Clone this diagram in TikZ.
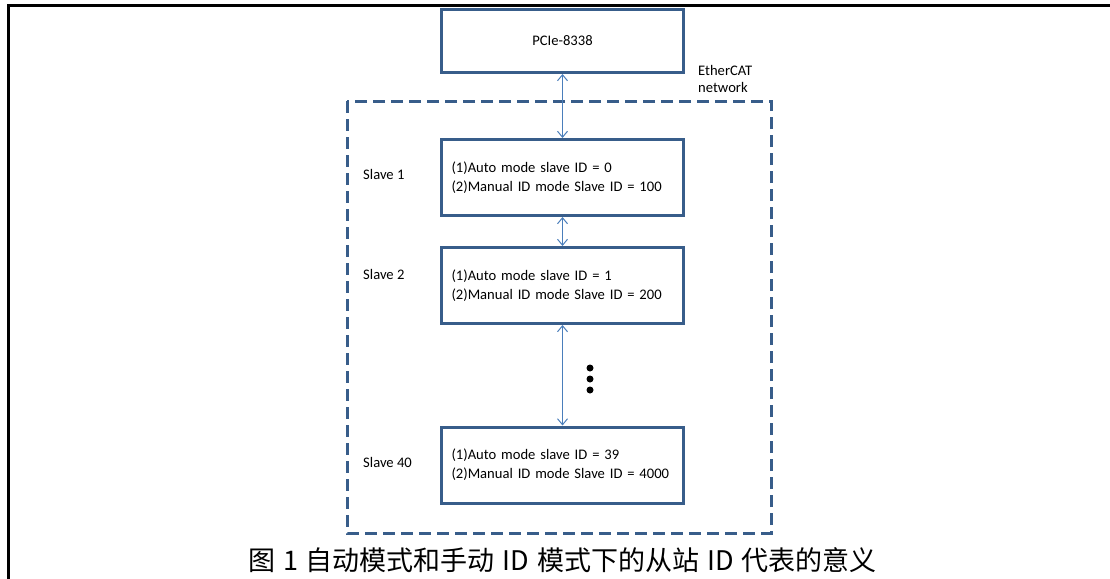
\documentclass[tikz,border=0pt]{standalone}
\usepackage{fontspec}
\setmainfont{Carlito}
\newfontfamily\cjk{Noto Sans CJK SC}
\usepackage{xcolor}
\usetikzlibrary{arrows.meta}
\definecolor{boxblue}{HTML}{385D8A}
\definecolor{linkblue}{HTML}{4A7EBB}
\newcommand{\gap}{\hspace{8pt}}

\begin{document}
\begin{tikzpicture}[x=1pt,y=-1pt,
	card/.style={draw=boxblue,line width=3pt,minimum width=242pt,minimum height=76pt,inner sep=0pt,font=\fontsize{14.6}{19}\selectfont},
	info/.style={card,text width=222pt,align=left,inner xsep=10pt},
	link/.style={linkblue,line width=1pt,{Straight Barb[length=6pt,width=10pt]}-{Straight Barb[length=6pt,width=10pt]}},
	tag/.style={anchor=west,inner sep=0pt,font=\fontsize{14.6}{17}\selectfont}]
	\useasboundingbox (0,0) rectangle (1110,578);
	
	% frame
	\draw[line width=3pt] (8,580) -- (8,6) -- (1112,6);
	
	% network
	\draw[boxblue,line width=3pt,dash pattern=on 12pt off 6pt] (347,101) rectangle (771,533);
	\node[tag,anchor=north west,align=left] (net) at (698,65) {EtherCAT\\network};
	
	\node[card,minimum height=63pt] (pcie) at (562.5,41) {PCIe-8338};
	\node[info] (slaveA) at (562.5,177.5) {(1)Auto mode slave ID = 0\\(2)Manual ID mode Slave ID = 100};
	\node[info] (slaveB) at (562.5,285.5) {(1)Auto mode slave ID = 1\\(2)Manual ID mode Slave ID = 200};
	\node[info] (slaveN) at (562.5,465) {(1)Auto mode slave ID = 39\\(2)Manual ID mode Slave ID = 4000};
	
	\node[tag] (tagA) at (363,174) {Slave 1};
	\node[tag] (tagB) at (363,274) {Slave 2};
	\node[tag] (tagN) at (363,462) {Slave 40};
	
	\draw[link] (pcie) -- (slaveA);
	\draw[link] (slaveA) -- (slaveB);
	\draw[link] (slaveB) -- (slaveN);
	
	\foreach \y in {368,379,390}
		\fill (590,\y) circle (3.5);
	
	\node[font=\cjk\fontsize{27}{30}\selectfont] (caption) at (562.5,560) {图\gap 1\gap 自动模式和手动\gap ID\gap 模式下的从站\gap ID\gap 代表的意义};
\end{tikzpicture}
\end{document}
